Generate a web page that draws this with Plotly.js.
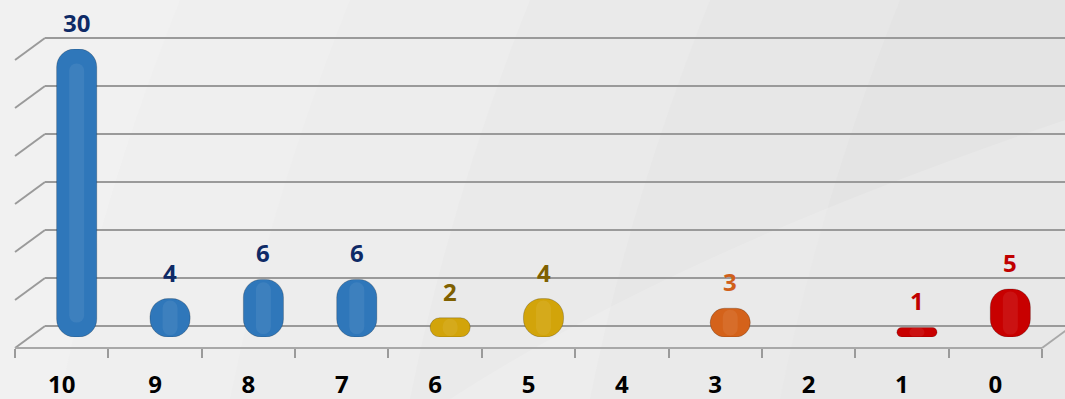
<!DOCTYPE html>
<html><head><meta charset="utf-8">
<script src="https://cdn.plot.ly/plotly-3.0.1.min.js"></script>
<style>html,body{margin:0;padding:0;background:#e6e6e6}</style>
</head><body><div id="chart" style="width:1065px;height:399px"></div>
<script>
const categories = ["10","9","8","7","6","5","4","3","2","1","0"];
const values = [30, 4, 6, 6, 2, 4, 0, 3, 0, 1, 5];
const barColors = ["#2f77ba","#2f77ba","#2f77ba","#2f77ba","#d2a40a","#d2a40a","#d2a40a","#d4621a","#c80000","#c80000","#c80000"];
const labelColors = ["#0e2a66","#0e2a66","#0e2a66","#0e2a66","#7f6000","#7f6000","#7f6000","#d0601a","#c00000","#c00000","#c00000"];
const gridValues = [0, 5, 10, 15, 20, 25, 30];

const W = 1065, H = 399;
const px = x => x / W;
const py = y => 1 - y / H;

const backTop = 38, backBot = 326, backLeft = 45;
const frontBot = 348, frontLeft = 15, frontRight = 1042;
const depthX = backLeft - frontLeft, depthY = frontBot - backBot;
const yMax = 30;
const gy = v => backBot - v * (backBot - backTop) / yMax;
const pad = 0.6;

const shapes = [];
// background: light on the left, darker to the right
shapes.push({type:'rect', xref:'paper', yref:'paper', layer:'below',
  x0:0, x1:1, y0:0, y1:1, fillcolor:'#f1f1f1', line:{width:0}});
const bands = [
  {x1:110, c:'#efefef'},
  {x1:280, c:'#ededed'},
  {x1:460, c:'#eaeaea'},
  {x1:640, c:'#e7e7e7'},
  {x1:830, c:'#e4e4e4'}
];
bands.forEach(b => {
  shapes.push({type:'path', xref:'paper', yref:'paper', layer:'below',
    path:`M ${px(b.x1+70)} 1 Q ${px(b.x1-10)} ${py(200)} ${px(b.x1-50)} 0 L 1 0 L 1 1 Z`,
    fillcolor:b.c, line:{width:0}});
});
shapes.push({type:'path', xref:'paper', yref:'paper', layer:'below',
  path:`M ${px(450)} 0 Q ${px(680)} ${py(250)} 1 ${py(120)} L 1 0 Z`,
  fillcolor:'#ffffff', line:{width:0}, opacity:0.15});

// left wall diagonals
gridValues.forEach(v => {
  shapes.push({type:'line', xref:'paper', yref:'paper', layer:'below',
    x0:px(frontLeft), y0:py(gy(v)+depthY), x1:px(backLeft), y1:py(gy(v)),
    line:{color:'#9a9a9a', width:2}});
});
// floor front edge and right diagonal
shapes.push({type:'line', xref:'paper', yref:'paper', layer:'below',
  x0:px(frontLeft), y0:py(frontBot), x1:px(frontRight), y1:py(frontBot),
  line:{color:'#a8a8a8', width:2}});
shapes.push({type:'line', xref:'paper', yref:'paper', layer:'below',
  x0:px(frontRight), y0:py(frontBot), x1:px(frontRight+depthX), y1:py(backBot),
  line:{color:'#a8a8a8', width:2}});

const barYDomain = [py(frontBot - depthY/2), py(frontBot - depthY/2 - (backBot - backTop))];
const zeros = values.map(() => 0);

const traces = [
  {type:'scatter', x:[0,1], y:[0,yMax], xaxis:'x', yaxis:'y',
   mode:'markers', marker:{opacity:0}, hoverinfo:'skip', showlegend:false},
  {type:'scatter', x:categories, y:zeros, xaxis:'x3', yaxis:'y3',
   mode:'markers', marker:{opacity:0}, hoverinfo:'skip', showlegend:false},
  {type:'bar', x:categories, y:values, base:zeros, xaxis:'x2', yaxis:'y2',
   marker:{color:barColors, cornerradius:18,
     line:{color:'rgba(0,0,0,0.2)', width:values.map(v => v > 0 ? 1 : 0)}},
   width:0.43, hoverinfo:'x+y', showlegend:false},
  {type:'bar', x:categories, y:values.map(v => v * 0.9), base:values.map(v => v * 0.05), xaxis:'x2', yaxis:'y2',
   marker:{color:'rgba(255,255,255,0.07)', cornerradius:8, line:{width:0}},
   width:0.16, hoverinfo:'skip', showlegend:false}
];

const annotations = categories.map((c, i) => i).filter(i => values[i] > 0).map(i => ({
  xref:'x2', yref:'y2', x:i, y:values[i], yanchor:'bottom', yshift:8,
  text:String(values[i]), showarrow:false,
  font:{family:'Open Sans, Liberation Sans, sans-serif', size:24, color:labelColors[i], weight:'bold'}
}));

const layout = {
  width:W, height:H, margin:{l:0,r:0,t:0,b:0},
  paper_bgcolor:'#e6e6e6', plot_bgcolor:'rgba(0,0,0,0)',
  showlegend:false, barmode:'overlay',
  xaxis:{domain:[px(backLeft), 1], range:[0,1], showgrid:false, zeroline:false,
    showticklabels:false, ticks:'', showline:false},
  yaxis:{domain:[py(gy(-pad)), py(gy(yMax+pad))], range:[-pad, yMax+pad], dtick:5, tick0:0,
    showgrid:true, gridcolor:'#9a9a9a', gridwidth:2, zeroline:false,
    showticklabels:false, ticks:'', showline:false},
  xaxis2:{domain:[px(frontLeft+depthX/2), px(frontRight+depthX/2)], anchor:'y2',
    type:'category', categoryorder:'array', categoryarray:categories, range:[-0.5,10.5],
    visible:false},
  yaxis2:{domain:barYDomain, anchor:'x2', range:[0,yMax], visible:false},
  xaxis3:{domain:[px(frontLeft), px(frontRight)], anchor:'y3',
    type:'category', categoryorder:'array', categoryarray:categories, range:[-0.5,10.5],
    tickson:'boundaries', ticks:'outside', ticklen:9, tickcolor:'#9a9a9a', tickwidth:2,
    showgrid:false, showline:false, ticklabelstandoff:20,
    tickfont:{family:'Open Sans, Liberation Sans, sans-serif', size:24, color:'#000000', weight:'bold'}},
  yaxis3:{domain:[py(frontBot), 1], anchor:'x3', range:[0,1], visible:false},
  shapes:shapes,
  annotations:annotations
};

Plotly.newPlot('chart', traces, layout, {displayModeBar:false, staticPlot:true});
</script>
</body></html>
